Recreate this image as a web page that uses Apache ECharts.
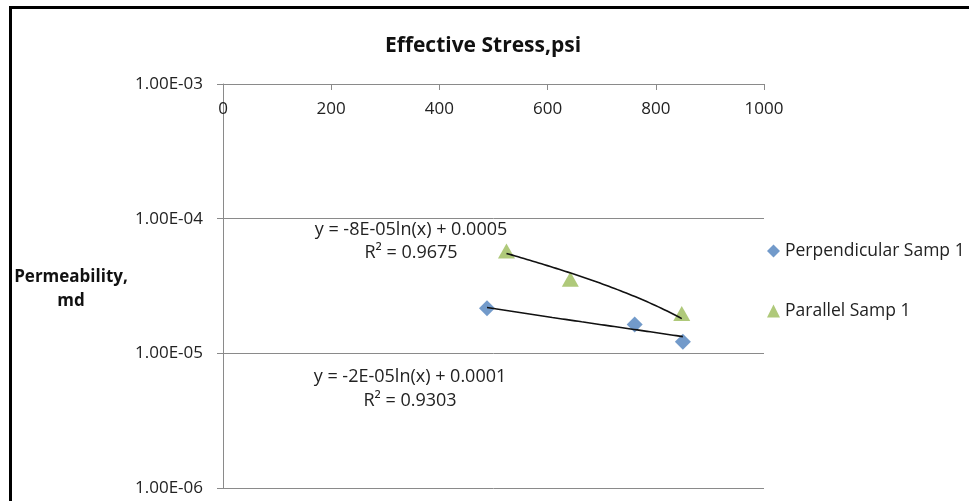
<!DOCTYPE html>
<html>
<head>
<meta charset="utf-8">
<title>Permeability vs Effective Stress</title>
<script src="https://cdn.jsdelivr.net/npm/echarts@6/dist/echarts.min.js"></script>
<style>
  html, body { margin: 0; padding: 0; background: #fff; }
  #chart { width: 969px; height: 501px; }
</style>
</head>
<body>
<div id="chart"></div>
<script>
// Measured samples: effective stress (psi) and permeability (md)
const seriesNames = ['Perpendicular Samp 1', 'Parallel Samp 1'];
const stressPerp = [488, 761, 850];
const permPerp = [2.16e-5, 1.64e-5, 1.22e-5];
const stressPara = [524, 642, 848];
const permPara = [5.75e-5, 3.55e-5, 1.98e-5];

// Trendline annotation text
const fitTextPara = ['y = -8E-05ln(x) + 0.0005', 'R² = 0.9675'];
const fitTextPerp = ['y = -2E-05ln(x) + 0.0001', 'R² = 0.9303'];

const colors = ['#4F81BD', '#9BBB59'];
const FONT = '"Open Sans", "DejaVu Sans", sans-serif';

// Least-squares fit of y = a*ln(x) + b
function logFit(xs, ys) {
  const n = xs.length;
  const lx = xs.map(Math.log);
  const mx = lx.reduce((s, v) => s + v, 0) / n;
  const my = ys.reduce((s, v) => s + v, 0) / n;
  let sxy = 0, sxx = 0;
  for (let i = 0; i < n; i++) {
    sxy += (lx[i] - mx) * (ys[i] - my);
    sxx += (lx[i] - mx) * (lx[i] - mx);
  }
  const a = sxy / sxx;
  return { a: a, b: my - a * mx };
}

// Sample the fitted curve across the span of the measured stresses
function fitCurve(xs, ys) {
  const f = logFit(xs, ys);
  const lo = Math.min.apply(null, xs), hi = Math.max.apply(null, xs);
  const pts = [];
  const steps = 60;
  for (let i = 0; i <= steps; i++) {
    const x = lo + (hi - lo) * i / steps;
    pts.push([x, f.a * Math.log(x) + f.b]);
  }
  return pts;
}

function zip(xs, ys) { return xs.map((x, i) => [x, ys[i]]); }

// 1.00E-05 style labels
function sciLabel(v) {
  const s = v.toExponential(2).toUpperCase();
  return s.replace(/E([+-])(\d)$/, 'E$10$2');
}

const chart = echarts.init(document.getElementById('chart'), null, { renderer: 'canvas' });

const textStyleBase = { fontFamily: FONT, fontSize: 18, fill: '#222' };

chart.setOption({
  animation: false,
  backgroundColor: '#ffffff',
  title: {
    text: 'Effective Stress,psi',
    left: 478,
    top: 31,
    textAlign: 'center',
    textStyle: { fontFamily: FONT, fontSize: 21, fontWeight: 'bold', color: '#111' }
  },
  legend: {
    data: [
      { name: seriesNames[0], icon: 'diamond' },
      { name: seriesNames[1], icon: 'triangle' }
    ],
    orient: 'vertical',
    left: 762,
    top: 237,
    itemWidth: 13,
    itemHeight: 13,
    itemGap: 42,
    textStyle: { fontFamily: FONT, fontSize: 17.5, color: '#222' }
  },
  grid: { left: 223, right: 205, top: 84, bottom: 13 },
  xAxis: {
    type: 'value',
    position: 'top',
    min: 0,
    max: 1000,
    interval: 200,
    axisLine: { show: true, lineStyle: { color: '#8a8a8a', width: 1 } },
    axisTick: { show: true, inside: true, length: 6, lineStyle: { color: '#8a8a8a' } },
    axisLabel: {
      inside: true, margin: 17, fontFamily: FONT, fontSize: 17, color: '#222',
      formatter: function (v) { return String(v); }
    },
    splitLine: { show: false }
  },
  yAxis: {
    type: 'log',
    logBase: 10,
    min: 1e-6,
    max: 1e-3,
    axisLine: { show: true, lineStyle: { color: '#8a8a8a', width: 1 } },
    axisTick: { show: true, inside: false, length: 6, lineStyle: { color: '#8a8a8a' } },
    axisLabel: { margin: 20, fontFamily: FONT, fontSize: 17, color: '#222', formatter: sciLabel },
    splitLine: { show: true, lineStyle: { color: '#8a8a8a', width: 1 } },
    minorTick: { show: false },
    minorSplitLine: { show: false }
  },
  graphic: [
    // frame edges
    { type: 'rect', shape: { x: 9, y: 6, width: 960, height: 3 }, style: { fill: '#000' }, z: 100 },
    { type: 'rect', shape: { x: 9, y: 6, width: 3, height: 495 }, style: { fill: '#000' }, z: 100 },
    // vertical axis title
    {
      type: 'text', x: 71, y: 289,
      style: {
        text: 'Permeability,\nmd', align: 'center', verticalAlign: 'middle',
        fontFamily: FONT, fontSize: 17, fontWeight: 'bold', fill: '#111', lineHeight: 24
      }
    },
    // trendline equations
    {
      type: 'text', x: 411, y: 241,
      style: Object.assign({}, textStyleBase, {
        text: fitTextPara.join('\n'), align: 'center', verticalAlign: 'middle', lineHeight: 23
      })
    },
    {
      type: 'text', x: 410, y: 389,
      style: Object.assign({}, textStyleBase, {
        text: fitTextPerp.join('\n'), align: 'center', verticalAlign: 'middle', lineHeight: 24
      })
    }
  ],
  series: [
    {
      name: seriesNames[0],
      type: 'scatter',
      symbol: 'diamond',
      symbolSize: 16,
      itemStyle: { color: colors[0] },
      data: zip(stressPerp, permPerp),
      z: 2
    },
    {
      name: seriesNames[1],
      type: 'scatter',
      symbol: 'triangle',
      symbolSize: [17, 15],
      itemStyle: { color: colors[1] },
      data: zip(stressPara, permPara),
      z: 2
    },
    {
      name: 'Perpendicular fit',
      type: 'line',
      showSymbol: false,
      silent: true,
      lineStyle: { color: '#111', width: 1.6 },
      data: fitCurve(stressPerp, permPerp),
      z: 3
    },
    {
      name: 'Parallel fit',
      type: 'line',
      showSymbol: false,
      silent: true,
      lineStyle: { color: '#111', width: 1.6 },
      data: fitCurve(stressPara, permPara),
      z: 3
    }
  ]
});
</script>
</body>
</html>
